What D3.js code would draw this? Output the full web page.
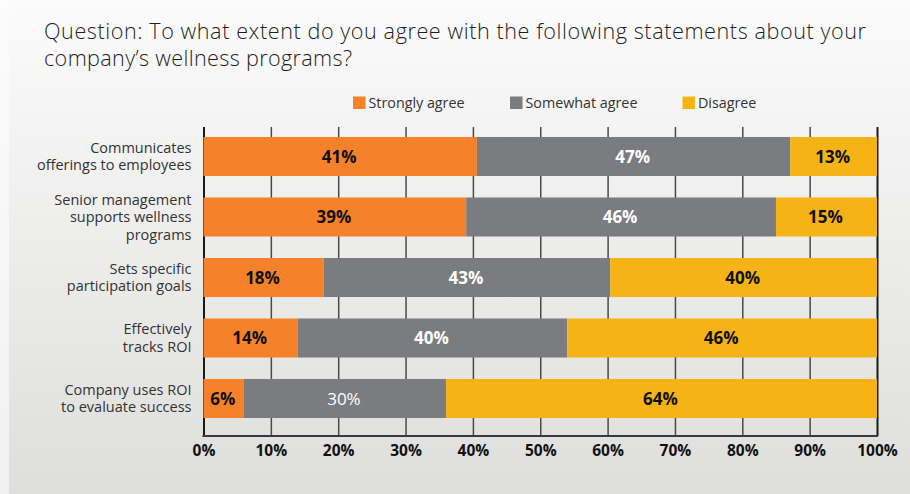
<!DOCTYPE html>
<html>
<head>
<meta charset="utf-8">
<script src="https://cdn.jsdelivr.net/npm/d3@7"></script>
<style>
  html, body { margin: 0; padding: 0; background: #fbfbfb; }
  svg { display: block; font-family: "Open Sans", "Noto Sans", sans-serif; }
</style>
</head>
<body>
<svg id="chart" width="910" height="494"></svg>
<script>
// ---- data ----
const titleLines = [
  "Question: To what extent do you agree with the following statements about your",
  "company\u2019s wellness programs?"
];
const categories = [
  "Communicates\nofferings to employees",
  "Senior management\nsupports wellness\nprograms",
  "Sets specific\nparticipation goals",
  "Effectively\ntracks ROI",
  "Company uses ROI\nto evaluate success"
];
const seriesNames = ["Strongly agree", "Somewhat agree", "Disagree"];
const stronglyAgree = [41, 39, 18, 14, 6];
const somewhatAgree = [47, 46, 43, 40, 30];
const disagree      = [13, 15, 40, 46, 64];
const tickValues = [0, 0.1, 0.2, 0.3, 0.4, 0.5, 0.6, 0.7, 0.8, 0.9, 1.0];

// ---- styling ----
const colors = ["#f5812a", "#7a7c80", "#f5b315"];
const labelColors = ["#111", "#ffffff", "#111"];

const svg = d3.select("#chart");
const W = 910, H = 494;

// background gradient panel
const defs = svg.append("defs");
const grad = defs.append("linearGradient").attr("id", "bg").attr("x1", 0).attr("y1", 0).attr("x2", 0).attr("y2", 1);
grad.append("stop").attr("offset", "0%").attr("stop-color", "#fbfbfb");
grad.append("stop").attr("offset", "100%").attr("stop-color", "#dededc");
const grad2 = defs.append("linearGradient").attr("id", "bg2").attr("x1", 0).attr("y1", 0).attr("x2", 0).attr("y2", 1);
grad2.append("stop").attr("offset", "0%").attr("stop-color", "#fcfcfc");
grad2.append("stop").attr("offset", "100%").attr("stop-color", "#f1f1f1");
svg.append("rect").attr("x", 0).attr("y", 0).attr("width", W).attr("height", H).attr("fill", "url(#bg2)");
svg.append("rect").attr("x", 9).attr("y", 0).attr("width", W - 9).attr("height", H).attr("fill", "url(#bg)");

// title
const titleWidths = [822, 308];
svg.append("g").selectAll("text").data(titleLines).join("text")
  .attr("x", 44).attr("y", (d, i) => 38.5 + i * 27)
  .attr("font-size", 21.6).attr("font-weight", 300).attr("fill", "#1e1e1e")
  .attr("textLength", (d, i) => titleWidths[i]).attr("lengthAdjust", "spacing")
  .text(d => d);

// scales
const plotTop = 127, plotBottom = 436;
const x = d3.scaleLinear().domain([0, 1]).range([203.5, 877]);
const y = d3.scaleBand().domain(categories).range([126.25, 428.75])
  .paddingInner(0.355).paddingOuter(0.1775);

// axis with gridlines
const axis = d3.axisBottom(x).tickValues(tickValues).tickFormat(d3.format(".0%"))
  .tickSize(-(plotBottom - plotTop)).tickPadding(9);
const gAxis = svg.append("g").attr("transform", `translate(0,${plotBottom})`).call(axis);
gAxis.select(".domain").remove();
gAxis.selectAll(".tick line").attr("stroke", "#4a4a4a").attr("stroke-width", 1.5);
gAxis.selectAll(".tick").filter(d => d === 0 || d === 1).select("line").attr("stroke", "#1a1a1a").attr("stroke-width", 2);
gAxis.selectAll(".tick text").attr("font-size", 15.5).attr("font-weight", 700).attr("fill", "#111")
  .attr("font-family", "\"Open Sans\", sans-serif");
svg.append("line").attr("x1", x(0) - 1).attr("x2", x(1) + 1).attr("y1", plotBottom).attr("y2", plotBottom)
  .attr("stroke", "#3a3a3a").attr("stroke-width", 2);

// stacked data (normalised so each bar fills 100%)
const table = categories.map((c, i) => ({
  cat: c, "Strongly agree": stronglyAgree[i], "Somewhat agree": somewhatAgree[i], "Disagree": disagree[i]
}));
const stacked = d3.stack().keys(seriesNames).offset(d3.stackOffsetExpand)(table);

const gBars = svg.append("g");
stacked.forEach((layer, si) => {
  const g = gBars.append("g");
  g.selectAll("rect").data(layer).join("rect")
    .attr("x", d => x(d[0])).attr("width", d => x(d[1]) - x(d[0]))
    .attr("y", d => y(d.data.cat)).attr("height", y.bandwidth())
    .attr("fill", colors[si]);
  g.selectAll("text").data(layer).join("text")
    .attr("x", d => (x(d[0]) + x(d[1])) / 2 - 1)
    .attr("y", d => y(d.data.cat) + y.bandwidth() / 2)
    .attr("dy", "0.36em").attr("text-anchor", "middle")
    .attr("font-size", 17)
    // the 30% label on the last row is printed in regular weight in the source
    .attr("font-weight", d => (si === 1 && d.data.cat === categories[4]) ? 400 : 700)
    .attr("fill", labelColors[si])
    .text(d => d.data[seriesNames[si]] + "%");
});

// category labels
const gCat = svg.append("g");
categories.forEach(c => {
  const lines = c.split("\n");
  const lh = 17.5;
  const cy = y(c) + y.bandwidth() / 2;
  const t = gCat.append("text").attr("text-anchor", "end").attr("font-size", 14.5).attr("fill", "#333");
  lines.forEach((ln, i) => {
    t.append("tspan").attr("x", 191.5)
      .attr("y", cy + (i - (lines.length - 1) / 2) * lh + 5)
      .text(ln);
  });
});

// legend
const legendX = [353, 510, 682.5];
const gLeg = svg.append("g");
seriesNames.forEach((s, i) => {
  gLeg.append("rect").attr("x", legendX[i]).attr("y", 96.5).attr("width", 12.5).attr("height", 12.5).attr("fill", colors[i]);
  gLeg.append("text").attr("x", legendX[i] + 15.5).attr("y", 107.5).attr("font-size", 14.3).attr("fill", "#333").text(s);
});
</script>
</body>
</html>
